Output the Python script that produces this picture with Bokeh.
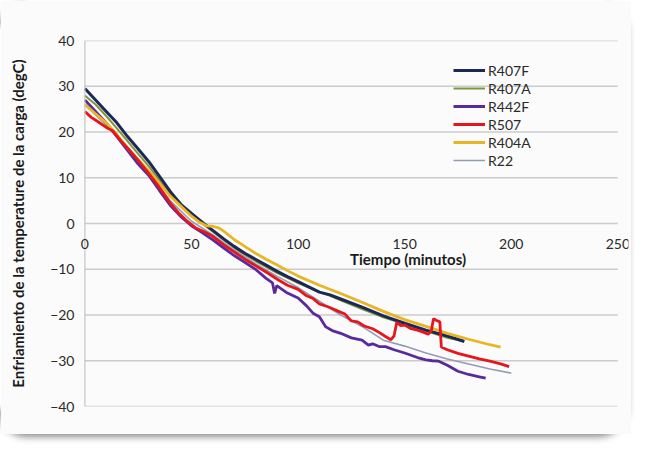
from bokeh.plotting import figure
from bokeh.models import Range1d, Legend, LegendItem, FixedTicker, Label, Span
from bokeh.embed import file_html
from bokeh.resources import INLINE

# ---- data ----
series_names = ["R407F", "R407A", "R442F", "R507", "R404A", "R22"]

r407f_t = [0, 5, 10, 15, 20, 25, 30, 35, 40, 45, 50, 55, 60, 65, 70, 75, 80, 85, 90, 95, 100, 110, 115, 120, 130, 140, 150, 160, 170, 178]
r407f_v = [29.5, 27, 24.5, 22, 19, 16.3, 13.5, 10.3, 7, 4.2, 2.2, 0.3, -1.5, -3.3, -5, -6.5, -7.8, -9.1, -10.4, -11.6, -12.7, -15, -15.6, -16.5, -18.3, -20.2, -21.8, -23.3, -24.6, -25.8]

r407a_t = [0, 5, 10, 15, 20, 25, 30, 35, 40, 45, 50, 55, 60, 65, 70, 75, 80, 85, 90, 95, 100, 105, 110, 115, 120, 130, 140, 150, 160, 170, 176]
r407a_v = [28, 26, 23.5, 20.8, 18, 15.2, 12.5, 9.5, 6.5, 4, 2, 0, -1.8, -3.6, -5.3, -6.8, -8.2, -9.5, -10.8, -11.9, -13, -14, -15, -15.8, -16.8, -18.7, -20.5, -22, -23.5, -25, -25.6]

r442f_t = [0, 5, 10, 15, 20, 25, 30, 35, 40, 45, 50, 55, 60, 65, 70, 75, 80, 85, 88, 89, 90, 95, 100, 104, 107, 110, 113, 116, 120, 125, 130, 133, 135, 138, 141, 145, 150, 156, 160, 163, 166, 170, 175, 180, 185, 188]
r442f_v = [27, 24.5, 22, 19, 16, 13, 10.5, 7.2, 4, 1.5, -0.5, -2, -3.6, -5.3, -7, -8.5, -10, -12, -13, -15.3, -13.6, -15.2, -16.3, -18, -19.6, -20.4, -22.6, -23.4, -24, -25, -25.5, -26.6, -26.3, -26.9, -26.9, -27.6, -28.3, -29.3, -29.8, -30, -30.1, -31, -32.3, -33, -33.5, -33.8]

r507_t = [0, 3, 6, 10, 13, 17, 20, 25, 29, 34, 40, 44, 48, 52, 56, 60, 65, 70, 75, 80, 85, 91, 95, 100, 104, 107, 110, 114, 119, 122, 125, 128, 131, 135, 138, 141, 143.5, 145, 146.3, 148, 150, 153, 156, 159, 161, 162.5, 163.5, 165, 166.5, 167.2, 170, 175, 180, 185, 190, 195, 199]
r507_v = [24.5, 23.2, 22.3, 21, 20.3, 18, 16.5, 13.8, 11.5, 8.5, 4.5, 2.3, 0.5, -1, -1.8, -2.8, -4.6, -6.2, -7.8, -9.2, -10.6, -12.4, -13.5, -14.4, -15.8, -16.4, -17.6, -18.2, -19.2, -19.8, -21.3, -21.5, -22.4, -23, -23.8, -24.7, -25.4, -24.6, -21.6, -22.3, -22.2, -23, -23.3, -23.8, -24.2, -23.5, -20.8, -21.2, -21.5, -27, -27.6, -28.4, -29, -29.6, -30.1, -30.7, -31.3]

r404a_t = [0, 5, 10, 15, 20, 25, 30, 35, 40, 45, 50, 54, 57, 60, 63, 66, 70, 75, 80, 85, 90, 95, 100, 110, 120, 130, 140, 150, 160, 170, 180, 190, 195]
r404a_v = [26, 24, 22, 19.5, 16.5, 14, 11.5, 8.8, 6, 3.8, 1.6, 0.2, -0.5, -0.6, -1, -2, -3.5, -5, -6.5, -7.8, -9, -10.3, -11.5, -13.5, -15.3, -17.2, -19.2, -21, -22.5, -24, -25.3, -26.5, -27]

r22_t = [0, 10, 20, 30, 40, 50, 60, 70, 80, 90, 100, 110, 120, 130, 140, 150, 160, 170, 180, 190, 200]
r22_v = [26, 21.5, 16.5, 10.8, 5, 0.5, -2.5, -5.8, -8.8, -11.5, -14, -17, -20, -22.5, -25.5, -26.8, -28.3, -29.6, -30.7, -31.8, -32.7]

x_ticks = [0, 50, 100, 150, 200, 250]
y_ticks = [-40, -30, -20, -10, 0, 10, 20, 30, 40]
x_title = "Tiempo (minutos)"
y_title = "Enfriamiento de la temperature de la carga (degC)"

# ---- figure (x range padded so the end tick labels are not cut) ----
p = figure(width=631, height=434, output_backend="svg", toolbar_location=None,
           x_range=Range1d(-3, 255), y_range=Range1d(-40, 40),
           min_border_left=78, min_border_right=3, min_border_top=40, min_border_bottom=28,
           background_fill_color="#fbfbfb", border_fill_color="#fbfbfb")
p.outline_line_color = None
p.styles = {"border-radius": "30px", "box-shadow": "-3px 3px 7px rgba(0,0,0,0.45)"}

font = "Lato"
tick_size = "14px"
tick_color = "#2a2a2a"

# horizontal gridlines spanning the data range 0..250
p.xgrid.grid_line_color = None
p.ygrid.grid_line_color = None
p.segment(x0=[x_ticks[0]] * len(y_ticks), y0=y_ticks, x1=[x_ticks[-1]] * len(y_ticks), y1=y_ticks,
          line_color="#cccccc", line_width=1.6)
# vertical axis line at x = 0
p.add_layout(Span(location=0, dimension="height", line_color="#c4c4c4", line_width=1.2))

# x axis crosses at y = 0: its tick labels are written along the zero line
p.xaxis.visible = False
for t in x_ticks:
    p.add_layout(Label(x=t, y=0, y_offset=-20, text=str(t), text_align="center",
                       text_baseline="middle", text_font=font, text_font_size=tick_size,
                       text_color=tick_color))

p.yaxis.ticker = FixedTicker(ticks=y_ticks)
p.yaxis.axis_line_color = None
p.yaxis.major_tick_line_color = None
p.yaxis.minor_tick_line_color = None
p.yaxis.major_tick_out = 0
p.yaxis.major_label_standoff = 4
p.yaxis.major_label_text_font = font
p.yaxis.major_label_text_font_size = tick_size
p.yaxis.major_label_text_color = tick_color
p.yaxis.axis_label = y_title
p.yaxis.axis_label_text_font = font
p.yaxis.axis_label_text_font_style = "bold"
p.yaxis.axis_label_text_font_size = "15px"
p.yaxis.axis_label_text_color = "#1a1a1a"
p.yaxis.axis_label_standoff = 20

p.add_layout(Label(x=151.6, y=-7.7, text=x_title, text_align="center", text_baseline="middle",
                   text_font=font, text_font_style="bold", text_font_size="15px",
                   text_color="#1a1a1a"))

# ---- series ----
r22 = p.line(r22_t, r22_v, line_color="#929db4", line_width=1.6)
r407a = p.line(r407a_t, r407a_v, line_color="#7d9640", line_width=2)
r407f = p.line(r407f_t, r407f_v, line_color="#1c2857", line_width=3)
r442f = p.line(r442f_t, r442f_v, line_color="#5a2a9c", line_width=2.8)
r404a = p.line(r404a_t, r404a_v, line_color="#e8b524", line_width=2.8)
r507 = p.line(r507_t, r507_v, line_color="#e5161d", line_width=2.8)

renderers = [r407f, r407a, r442f, r507, r404a, r22]
legend = Legend(items=[LegendItem(label=n, renderers=[r]) for n, r in zip(series_names, renderers)],
                location=(375, 237), background_fill_alpha=0, border_line_color=None,
                padding=0, margin=0, spacing=0, label_height=18, glyph_height=18,
                glyph_width=32, label_standoff=3, label_text_font=font,
                label_text_font_size="14px", label_text_color=tick_color)
p.add_layout(legend)

open("out.html", "w").write(file_html(p, INLINE))
